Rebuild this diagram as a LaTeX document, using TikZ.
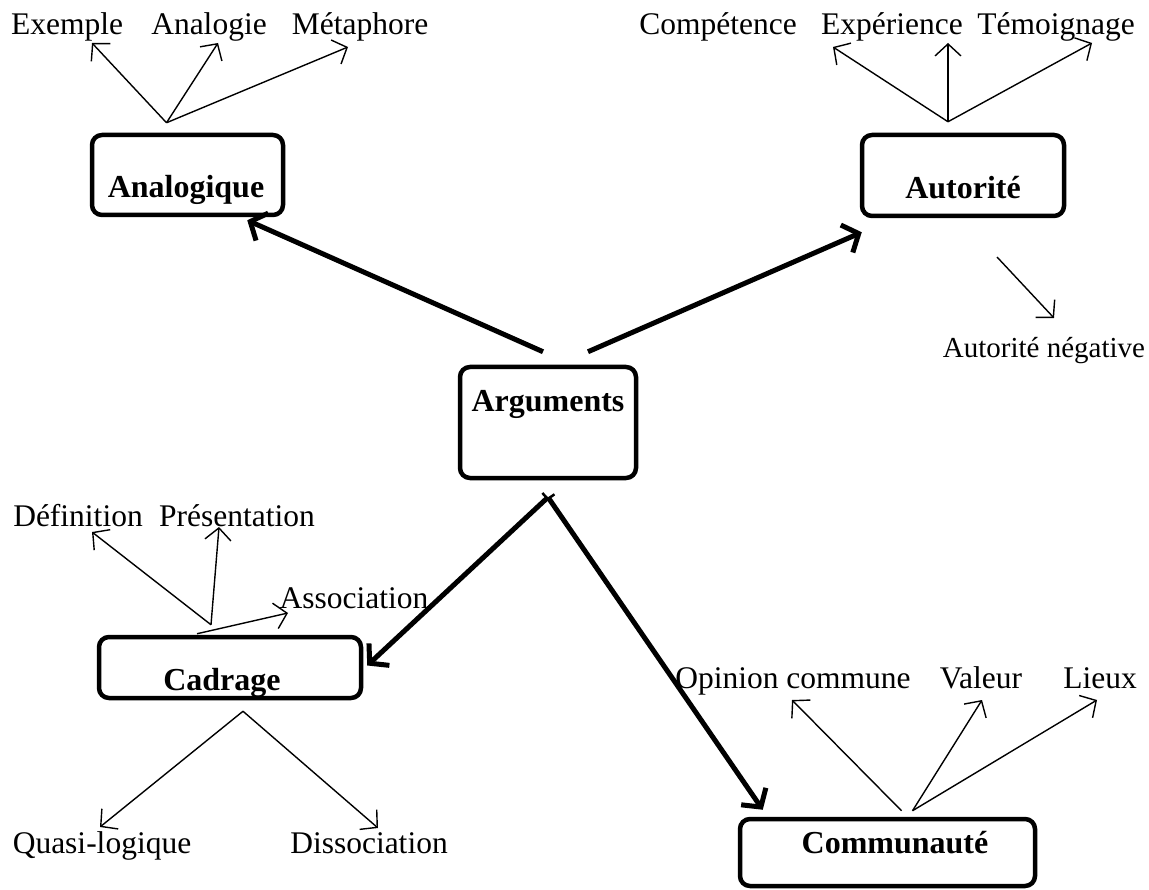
\documentclass[tikz,border=0pt]{standalone}
\usepackage{fontspec}
\setmainfont{Liberation Serif}
\usetikzlibrary{arrows.meta,calc}
\begin{document}
\begin{tikzpicture}[x=1pt,y=-1pt,
  lbl/.style={anchor=base,inner sep=0pt,font=\fontsize{31.5}{37}\selectfont},
  boxlbl/.style={anchor=base,inner sep=0pt,font=\fontsize{32}{38}\selectfont\bfseries},
  box/.style={draw,line width=4.5pt,rounded corners=10pt,inner sep=0pt},
  thinarrow/.style={line width=1.4pt,-{Straight Barb[length=12pt,width=26pt]}},
  bigarrow/.style={line width=5pt,-{Straight Barb[length=13pt,width=30pt]}},
  splitarrow/.style={line width=5pt,{Bar[width=14pt,line width=2.5pt]}-{Straight Barb[length=13pt,width=30pt]}}]
\useasboundingbox (0,0) rectangle (1149,890);

% boxes
\node[box,minimum width=191pt,minimum height=80pt] (ana) at (187.5,175) {};
\node[box,minimum width=202pt,minimum height=81pt] (aut) at (963,175.5) {};
\node[box,minimum width=176pt,minimum height=111pt] (arg) at (548,422.5) {};
\node[box,minimum width=262pt,minimum height=61pt] (cad) at (230,667.5) {};
\node[box,minimum width=295pt,minimum height=67pt] (com) at (887.5,852.5) {};

% box labels
\node[boxlbl] (anaL) at (186,198) {Analogique};
\node[boxlbl] (autL) at (963,199) {Autorité};
\node[boxlbl] (argL) at (548,412) {Arguments};
\node[boxlbl] (cadL) at (222,690) {Cadrage};
\node[boxlbl] (comL) at (895,853) {Communauté};

% leaf labels
\node[lbl] (ex) at (67,35) {Exemple};
\node[lbl] (anl) at (209,35) {Analogie};
\node[lbl] (met) at (360,35) {Métaphore};
\node[lbl] (cmp) at (718,35) {Compétence};
\node[lbl] (exp) at (892,35) {Expérience};
\node[lbl] (tem) at (1056,35) {Témoignage};
\node[lbl,font=\fontsize{29}{35}\selectfont] (neg) at (1044,358) {Autorité négative};
\node[lbl] (def) at (78,526) {Définition};
\node[lbl] (pre) at (237,526) {Présentation};
\node[lbl] (ass) at (354,608) {Association};
\node[lbl] (qua) at (102,853) {Quasi-logique};
\node[lbl] (dis) at (369,853) {Dissociation};
\node[lbl] (opi) at (793,688) {Opinion commune};
\node[lbl] (val) at (981,688) {Valeur};
\node[lbl] (lie) at (1100,688) {Lieux};

% hubs
\coordinate (hAna) at ($(ana.north)+(-21,-10)$);
\coordinate (hAut) at ($(aut.north)+(-15,-11)$);
\coordinate (hNeg) at (997,257);
\coordinate (hCadU) at ($(cad.north)+(-19,-10)$);
\coordinate (hCadA) at ($(cad.north)+(-33,-1)$);
\coordinate (hCadD) at ($(cad.south)+(13,11)$);
\coordinate (hComL) at ($(com.north)+(14,-6)$);
\coordinate (hComR) at ($(com.north)+(25,-6)$);
\coordinate (split) at ($(arg.south)+(0,17)$);
\coordinate (argA) at ($(arg.north)+(-5,-13)$);
\coordinate (argB) at ($(arg.north)+(40,-13)$);

% thin arrows
\draw[thinarrow] (hAna) -- ($(ex.base)+(25,8)$);
\draw[thinarrow] (hAna) -- ($(anl.base)+(9,8)$);
\draw[thinarrow] (hAna) -- ($(met.base)+(-12,12)$);
\draw[thinarrow] (hAut) -- ($(cmp.base)+(115,12)$);
\draw[thinarrow] (hAut) -- ($(exp.base)+(56,8)$);
\draw[thinarrow] (hAut) -- ($(tem.base)+(36,8)$);
\draw[thinarrow] (hNeg) -- ($(neg.base)+(10,-40)$);
\draw[thinarrow] (hCadU) -- ($(def.base)+(14,6)$);
\draw[thinarrow] (hCadU) -- ($(pre.base)+(-18,1)$);
\draw[thinarrow] (hCadA) -- ($(ass.base)+(-66,5)$);
\draw[thinarrow] (hCadD) -- ($(qua.base)+(-2,-26)$);
\draw[thinarrow] (hCadD) -- ($(dis.base)+(9,-25)$);
\draw[thinarrow] (hComL) -- ($(opi.base)+(-1,12)$);
\draw[thinarrow] (hComR) -- ($(val.base)+(1,12)$);
\draw[thinarrow] (hComR) -- ($(lie.base)+(-3,12)$);

% thick arrows
\draw[bigarrow] (argA) -- ($(ana.south east)+(-38,3)$);
\draw[bigarrow] (argB) -- ($(aut.south west)+(2,14)$);
\draw[splitarrow] (split) -- ($(cad.east)+(4,-2)$);
\draw[splitarrow] (split) -- ($(com.north west)+(25,-7)$);
\end{tikzpicture}
\end{document}
